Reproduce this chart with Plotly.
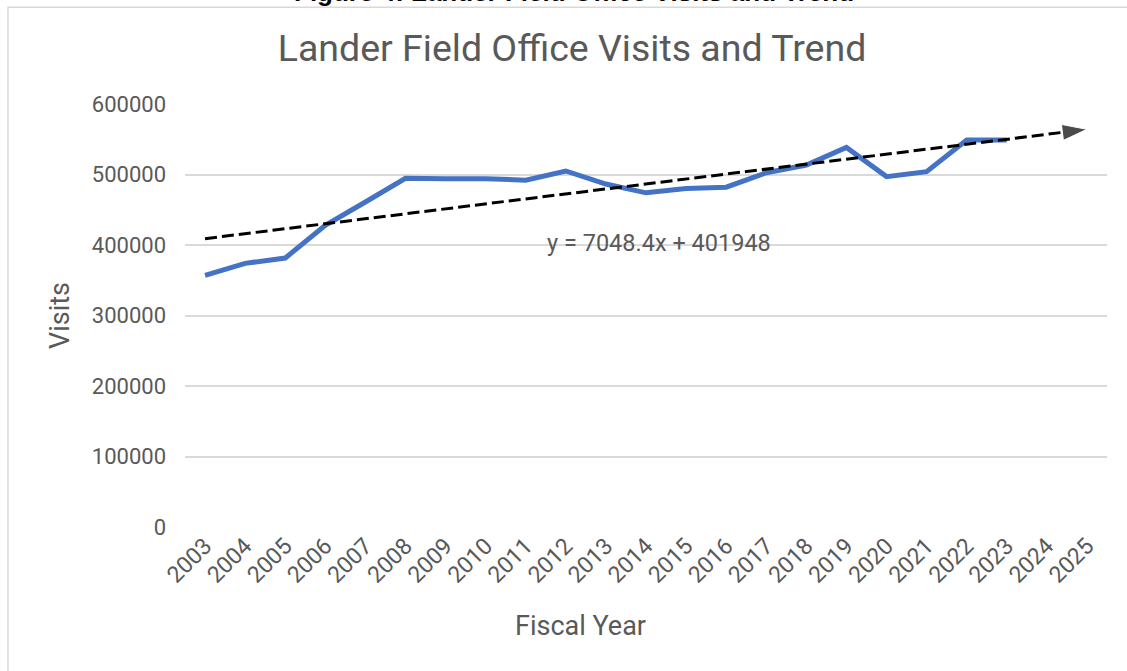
import plotly.graph_objects as go

years = [str(y) for y in range(2003, 2026)]
visit_years = [str(y) for y in range(2003, 2024)]
visits = [357000, 374000, 381500, 428000, 461000, 494600, 494000, 494000, 492000,
          505000, 486500, 474000, 480000, 482000, 502500, 513500, 538500, 497000,
          504000, 549000, 549000]

# linear trend shown on the chart: y = 7048.4x + 401948 (x = 1 for 2003)
trend_years = ["2003", "2025"]
trend_values = [408996, 564061]
equation = "y = 7048.4x + 401948"

grey = "#595959"
font = "Roboto"

fig = go.Figure()

fig.add_trace(go.Scatter(
    x=visit_years, y=visits, mode="lines",
    line=dict(color="#4472C4", width=5),
    showlegend=False, hoverinfo="x+y",
))

fig.add_trace(go.Scatter(
    x=trend_years, y=trend_values, mode="lines+markers",
    line=dict(color="black", width=3, dash="12px,5px"),
    marker=dict(symbol="arrow", size=[0, 26], angleref="previous", color="black"),
    showlegend=False, hoverinfo="skip",
))

fig.add_annotation(
    x=11.32, y=403000, xref="x", yref="y", text=equation, showarrow=False,
    font=dict(family=font, size=23.5, color=grey),
)

# x axis title sits left of the plot centre in the original
fig.add_annotation(
    x=(580 - 185) / 922, y=-(626 - 527) / 423, xref="paper", yref="paper",
    yanchor="middle", text="Fiscal Year", showarrow=False,
    font=dict(family=font, size=27, color=grey),
)

# caption above the chart, mostly cut off at the page top
fig.add_annotation(
    x=0.422, y=1.2245, xref="paper", yref="paper", yanchor="bottom",
    text="<b>Figure 4: Lander Field Office Visits and Trend</b>", showarrow=False,
    font=dict(family="Liberation Sans", size=26, color="black"),
)

# chart frame
fig.add_shape(
    type="rect", xref="paper", yref="paper",
    x0=-0.192, x1=1.1, y0=-0.4, y1=1.229,
    line=dict(color="#d9d9d9", width=1.5), layer="below",
)

fig.update_layout(
    width=1127, height=671,
    margin=dict(l=185, r=20, t=104, b=144),
    paper_bgcolor="white", plot_bgcolor="white",
    font=dict(family=font, color=grey),
    title=dict(
        text="Lander Field Office Visits and Trend",
        x=572 / 1127, xref="container", xanchor="center",
        y=1 - 48 / 671, yref="container", yanchor="middle",
        font=dict(family=font, size=37.5, color=grey),
    ),
    xaxis=dict(
        type="category", categoryorder="array", categoryarray=years,
        range=[-0.5, len(years) - 0.5], automargin=False,
        tickangle=-45, tickfont=dict(size=23, color=grey),
        showgrid=False, zeroline=False, showline=False,
    ),
    yaxis=dict(
        range=[0, 600000], tickvals=[0, 100000, 200000, 300000, 400000, 500000, 600000],
        tickformat="d", tickfont=dict(size=22, color=grey), automargin=False,
        gridcolor="#d9d9d9", gridwidth=1.5, zeroline=False, showline=False,
        ticklabelstandoff=18,
        title=dict(text="Visits", font=dict(size=27, color=grey), standoff=14),
    ),
)

fig.write_html("out.html", config={"displayModeBar": False},
               post_script="document.body.style.margin='0';")
